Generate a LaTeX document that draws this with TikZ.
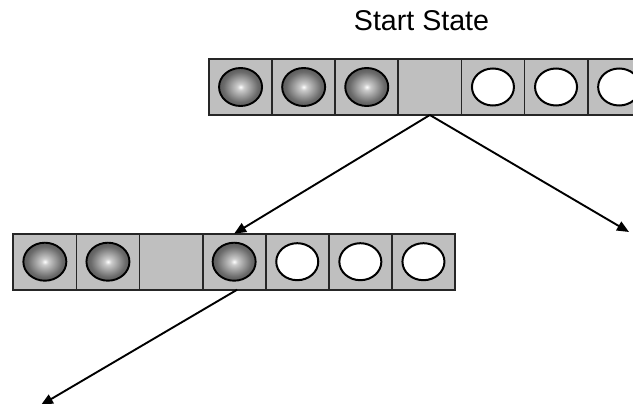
\documentclass[tikz,border=0pt]{standalone}
\usepackage{fontspec}
\setmainfont{Liberation Sans}
\usetikzlibrary{arrows.meta}
% shiny dark marble: white highlight in the middle, dark rim
\pgfdeclareradialshading{ballshade}{\pgfpoint{0bp}{0bp}}{%
  color(0bp)=(white); color(4bp)=(white!80!black); color(20bp)=(black!58);
  color(36bp)=(black!78); color(50bp)=(black!92)}
\begin{document}
\begin{tikzpicture}[x=1pt,y=-1pt,
  cell/.style={draw=black!85, line width=1.8pt, fill=black!25,
    minimum width=63.1pt, minimum height=56pt, inner sep=0pt, outer sep=0pt},
  ball/.style={draw=black, line width=1.9pt, shading=ballshade},
  hole/.style={draw=black, line width=2pt, fill=white},
  move/.style={line width=1.9pt, -{Triangle[length=12pt,width=10pt]}}]
\useasboundingbox (0,0) rectangle (633,404);
\clip (0,0) rectangle (633,404);

% title
\node[anchor=base, font=\fontsize{28.6}{34}\selectfont, inner sep=0pt] (title) at (421.5,30.7) {Start State};

% start state row
\foreach \i in {1,...,7}
  \node[cell] (t\i) at ({209+31.55+63.1*(\i-1)},87) {};
\foreach \i in {1,2,3}
  \draw[ball] (t\i) ellipse [x radius=21.5, y radius=19];
\foreach \i in {5,6,7}
  \draw[hole] (t\i) ellipse [x radius=21, y radius=18.5];

% successor row
\foreach \i in {1,...,7}
  \node[cell] (b\i) at ({13.3+31.55+63.1*(\i-1)},261.7) {};
\foreach \i in {1,2,4}
  \draw[ball] (b\i) ellipse [x radius=21.5, y radius=19];
\foreach \i in {5,6,7}
  \draw[hole] (b\i) ellipse [x radius=21, y radius=18.5];

% moves
\coordinate (rightend) at (629,232);
\coordinate (leftend) at (41,405);
\draw[move] (t4.south) -- (b4.north);
\draw[move] (t4.south) -- (rightend);
\draw[move] ([xshift=3pt]b4.south) -- (leftend);
\end{tikzpicture}
\end{document}
